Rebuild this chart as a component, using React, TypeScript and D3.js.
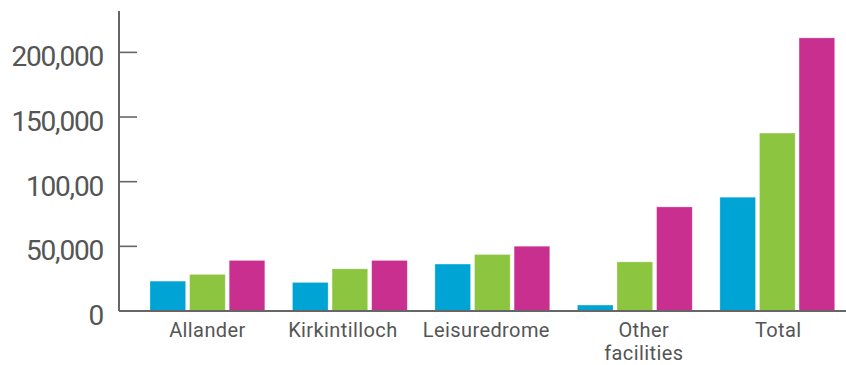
import React from "react";
import * as d3 from "d3";

// Visitor numbers by facility, one series per period
const categories = ["Allander", "Kirkintilloch", "Leisuredrome", "Other facilities", "Total"];
const seriesKeys = ["s1", "s2", "s3"];
const seriesA = [23100, 22100, 36300, 4600, 88000];
const seriesB = [28300, 32600, 43700, 38000, 137600];
const seriesC = [39100, 39100, 50100, 80500, 211200];
const tickValues = [0, 50000, 100000, 150000, 200000];
const tickLabels = ["0", "50,000", "100,00", "150,000", "200,000"];
const colors = ["#00a4d4", "#8cc540", "#c92f8f"];

// small horizontal nudges for the category captions (layout only)
const labelNudge = [0, -7, -6, 9, 1];

const W = 846;
const H = 365;
const axisX = 119;
const baseY = 311;
const topY = 11;

export default function App() {
  const values = [seriesA, seriesB, seriesC];
  const y = d3.scaleLinear().domain([0, 232000]).range([baseY, topY]);
  const x0 = d3
    .scaleBand<string>()
    .domain(categories)
    .range([150, 834.7])
    .paddingInner(0.194)
    .paddingOuter(0);
  const x1 = d3
    .scaleBand<string>()
    .domain(seriesKeys)
    .range([0, x0.bandwidth()])
    .paddingInner(0.1)
    .paddingOuter(0);

  const font = "Roboto, 'DejaVu Sans', sans-serif";
  const axisColor = "#666";
  const textColor = "#555";

  return (
    <svg
      width={W}
      height={H}
      viewBox={`0 0 ${W} ${H}`}
      style={{ position: "absolute", left: 0, top: 0, background: "#fff" }}
    >
      {/* bars */}
      {categories.map((c, i) => (
        <g key={c} transform={`translate(${x0(c)},0)`}>
          {seriesKeys.map((k, j) => (
            <rect
              key={k}
              x={x1(k)}
              y={y(values[j][i])}
              width={x1.bandwidth()}
              height={baseY - y(values[j][i])}
              fill={colors[j]}
              stroke="#ffffff"
              strokeOpacity={0.35}
              strokeWidth={0.8}
            />
          ))}
        </g>
      ))}

      {/* y axis */}
      <line x1={axisX} x2={axisX} y1={topY} y2={baseY} stroke={axisColor} strokeWidth={2} />
      {tickValues.map((v, i) => (
        <g key={v}>
          {v !== 0 && (
            <line x1={axisX} x2={137} y1={y(v)} y2={y(v)} stroke={axisColor} strokeWidth={1.6} />
          )}
          <text
            x={103}
            y={y(v) + 14}
            textAnchor="end"
            fontFamily={font}
            fontSize={28}
            letterSpacing={-1.2}
            fill={textColor}
          >
            {tickLabels[i]}
          </text>
        </g>
      ))}

      {/* baseline */}
      <line x1={axisX} x2={W} y1={baseY} y2={baseY} stroke={axisColor} strokeWidth={1.8} />

      {/* category labels */}
      {categories.map((c, i) => {
        const cx = (x0(c) as number) + x0.bandwidth() / 2 + labelNudge[i];
        const words = c === "Other facilities" ? ["Other", "facilities"] : [c];
        return (
          <text
            key={c}
            x={cx}
            y={337}
            textAnchor="middle"
            fontFamily={font}
            fontSize={20}
            letterSpacing={0.4}
            fill={textColor}
          >
            {words.map((w, wi) => (
              <tspan key={w} x={cx} dy={wi === 0 ? 0 : 23}>
                {w}
              </tspan>
            ))}
          </text>
        );
      })}
    </svg>
  );
}
